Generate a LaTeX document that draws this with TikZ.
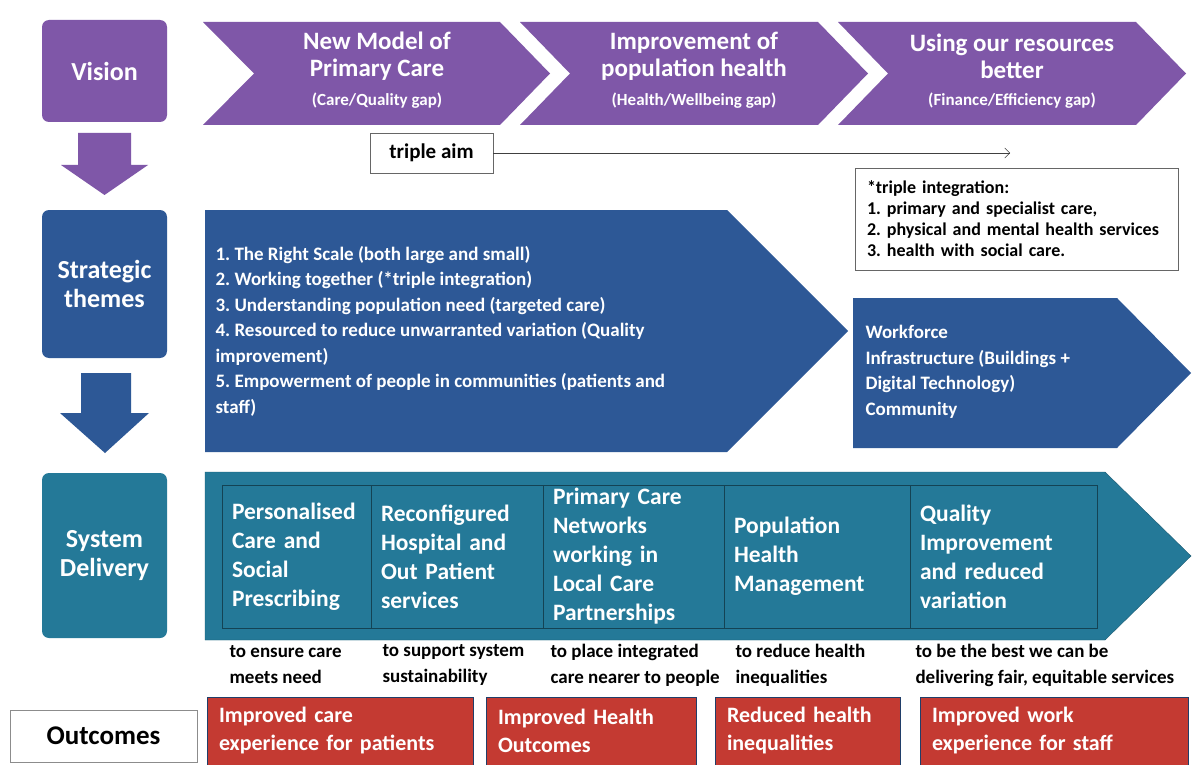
\documentclass[tikz,border=0pt]{standalone}
\usepackage{fontspec}
\setmainfont{Carlito}
\frenchspacing
\definecolor{visionpurple}{RGB}{127, 87, 168}
\definecolor{themeblue}{RGB}{45, 88, 150}
\definecolor{deliveryteal}{RGB}{36, 121, 152}
\definecolor{outcomered}{RGB}{196, 58, 50}
\usetikzlibrary{arrows.meta}
\tikzset{
    rowbox/.style={rectangle, rounded corners=7pt, minimum width=125pt, text=white,
                   align=center, font=\bfseries\fontsize{26}{29}\selectfont},
    chevtitle/.style={text=white, align=center, font=\bfseries\fontsize{25}{27}\selectfont},
    chevgap/.style={text=white, font=\bfseries\fontsize{17}{19}\selectfont},
    themetext/.style={text=white, align=left, font=\bfseries\fontsize{19}{25.5}\selectfont},
    notebox/.style={rectangle, draw=black!60, fill=white, align=left, inner xsep=12pt,
                    font=\bfseries\fontsize{18}{21}\selectfont},
    cellbox/.style={rectangle, draw=deliveryteal!55!black, fill=deliveryteal, text=white,
                    align=left, minimum height=143pt, inner xsep=10pt,
                    font=\bfseries\fontsize{23.5}{29}\selectfont},
    purposetext/.style={align=left, font=\bfseries\fontsize{19}{26}\selectfont},
    outcomebox/.style={rectangle, draw=themeblue!70!black, fill=outcomered, text=white,
                       align=left, minimum height=68pt, inner xsep=12pt,
                       font=\bfseries\fontsize{22}{28}\selectfont},
    aimarrow/.style={-{Straight Barb[length=5pt, width=10pt]}, thin, black!75},
}
\begin{document}
\begin{tikzpicture}[x=1pt, y=-1pt]
    \path[use as bounding box, fill=white] (0,0) rectangle (1200,765);
    % vision row
    \fill[visionpurple] (203,22) -- (500,22) -- (550,73.5) -- (500,125) -- (203,125) -- (254,73.5) -- cycle;
    \fill[visionpurple] (520,22) -- (818,22) -- (868,73.5) -- (818,125) -- (520,125) -- (570,73.5) -- cycle;
    \fill[visionpurple] (838,22) -- (1136,22) -- (1186,73.5) -- (1136,125) -- (838,125) -- (888,73.5) -- cycle;
    \fill[visionpurple] (78,133) -- (131,133) -- (131,165) -- (148,165) -- (104.5,195) -- (61,165) -- (78,165) -- cycle;
    \node[rowbox, fill=visionpurple, minimum height=102pt] (vision) at (104.5,71) {Vision};
    \node[chevtitle] (aim1) at (377,56.5) {New Model of\\Primary Care};
    \node[chevgap] (gap1) at (377,101) {(Care/Quality gap)};
    \node[chevtitle] (aim2) at (694,56.5) {Improvement of\\population health};
    \node[chevgap] (gap2) at (694,101) {(Health/Wellbeing gap)};
    \node[chevtitle] (aim3) at (1012,56.5) {Using our resources\\better};
    \node[chevgap] (gap3) at (1012,101) {(Finance/Efficiency gap)};
    \node[rectangle, draw=black!60, fill=white, minimum width=123pt, minimum height=40pt,
          font=\bfseries\fontsize{21}{24}\selectfont] (tripleaim) at (431.5,153) {triple aim};
    \coordinate (aimend) at (1010,153);
    \draw[aimarrow] (tripleaim.east) -- (aimend);
    \node[notebox, text width=299pt, minimum height=102pt] (integration) at (1016.5,219)
        {*triple integration:\\1. primary and specialist care,\\2. physical and mental health services\\3. health with social care.};
    % strategic themes row
    \fill[themeblue] (205,210) -- (727,210) -- (848,331) -- (727,452) -- (205,452) -- cycle;
    \fill[themeblue] (853,298) -- (1117,298) -- (1191,373) -- (1117,448) -- (853,448) -- cycle;
    \fill[themeblue] (81,373) -- (131,373) -- (131,413) -- (149,413) -- (105,453) -- (60,413) -- (81,413) -- cycle;
    \node[rowbox, fill=themeblue, minimum height=148pt] (themes) at (104.5,284) {Strategic\\themes};
    \node[themetext, anchor=west] (themelist) at (212,331)
        {1. The Right Scale (both large and small)\\
         2. Working together (*triple integration)\\
         3. Understanding population need (targeted care)\\
         4. Resourced to reduce unwarranted variation (Quality\\
         improvement)\\
         5. Empowerment of people in communities (patients and\\
         staff)};
    \node[themetext, anchor=west] (enablers) at (862,372)
        {Workforce\\Infrastructure (Buildings +\\Digital Technology)\\Community};
    % system delivery row
    \fill[deliveryteal, draw=deliveryteal!75!black] (205,472) -- (1105,472) -- (1191,556) -- (1105,640) -- (205,640) -- cycle;
    \node[rowbox, fill=deliveryteal, minimum height=165pt] (delivery) at (104.5,555.5) {System\\Delivery};
    \node[cellbox, text width=129pt] (cell1) at (296.5,556.5) {Personalised\\Care and\\Social\\Prescribing};
    \node[cellbox, text width=152pt] (cell2) at (457,556.5) {Reconfigured\\Hospital and\\Out Patient\\services};
    \node[cellbox, text width=161pt] (cell3) at (633.5,556.5) {Primary Care\\Networks\\working in\\Local Care\\Partnerships};
    \node[cellbox, text width=166pt] (cell4) at (817,556.5) {Population\\Health\\Management};
    \node[cellbox, text width=167pt] (cell5) at (1003.5,556.5) {Quality\\Improvement\\and reduced\\variation};
    \node[purposetext, anchor=west] (need) at (226,665) {to ensure care\\meets need};
    \node[purposetext, anchor=west] (sustain) at (379,665) {to support system\\sustainability};
    \node[purposetext, anchor=west] (nearer) at (547,665) {to place integrated\\care nearer to people};
    \node[purposetext, anchor=west] (inequal) at (732,665) {to reduce health\\inequalities};
    \node[purposetext, anchor=west] (fair) at (912,665) {to be the best we can be\\delivering fair, equitable services};
    % outcomes row
    \node[rectangle, draw=black!45, fill=white, minimum width=187pt, minimum height=52pt,
          font=\bfseries\fontsize{27}{30}\selectfont] (outcomes) at (103.5,736) {Outcomes};
    \node[outcomebox, text width=242pt] (care) at (340,731) {Improved care\\experience for patients};
    \node[outcomebox, text width=186pt] (health) at (591,731) {Improved Health\\Outcomes};
    \node[outcomebox, text width=161pt] (reduced) at (807.5,731) {Reduced health\\inequalities};
    \node[outcomebox, text width=244pt] (staff) at (1054,731) {Improved work\\experience for staff};
\end{tikzpicture}
\end{document}
